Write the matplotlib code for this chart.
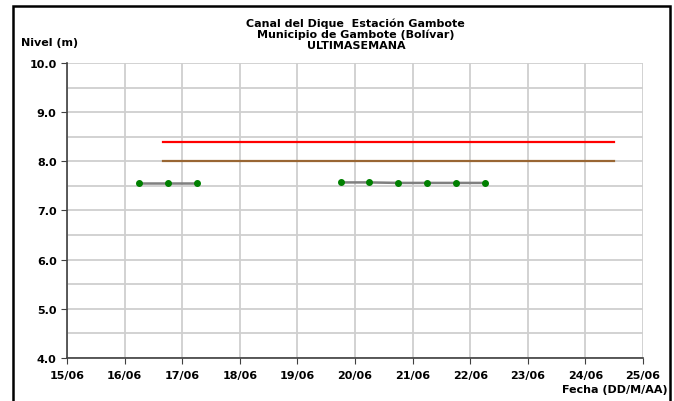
import datetime as dt
import matplotlib
matplotlib.use("Agg")
import matplotlib.pyplot as plt
import matplotlib.dates as mdates
from matplotlib.patches import Rectangle

plt.rcParams['font.family'] = ['DejaVu Sans']

# datos
fechas_nivel = [dt.datetime(2010, 6, 16, 6), dt.datetime(2010, 6, 16, 18), dt.datetime(2010, 6, 17, 6),
                dt.datetime(2010, 6, 19, 18), dt.datetime(2010, 6, 20, 6), dt.datetime(2010, 6, 20, 18),
                dt.datetime(2010, 6, 21, 6), dt.datetime(2010, 6, 21, 18), dt.datetime(2010, 6, 22, 6)]
niveles = [7.55, 7.55, 7.55, 7.57, 7.57, 7.56, 7.56, 7.56, 7.56]
grupos = [3, 6]  # puntos por tramo continuo

fechas_umbral = [dt.datetime(2010, 6, 16, 16), dt.datetime(2010, 6, 24, 12)]
alerta_roja = [8.4, 8.4]
alerta_naranja = [8.0, 8.0]

fig = plt.figure(figsize=(6.74, 4.02), dpi=100)
ax = fig.add_axes([0.0994, 0.107, 0.8546, 0.734])

ax.plot(fechas_umbral, alerta_roja, color='#ff0000', lw=1.6)
ax.plot(fechas_umbral, alerta_naranja, color='#996633', lw=1.6)

i = 0
for n in grupos:
    ax.plot(fechas_nivel[i:i + n], niveles[i:i + n], color='#808080', lw=1.8,
            marker='o', ms=4, mfc='#008000', mec='#008000')
    i += n

ax.set_xlim(dt.datetime(2010, 6, 15), dt.datetime(2010, 6, 25))
ax.set_ylim(4.0, 10.0)
ax.xaxis.set_major_locator(mdates.DayLocator())
ax.xaxis.set_major_formatter(mdates.DateFormatter('%d/%m'))
ax.set_yticks([4, 5, 6, 7, 8, 9, 10])
ax.set_yticks([4.5, 5.5, 6.5, 7.5, 8.5, 9.5], minor=True)
ax.yaxis.set_major_formatter(matplotlib.ticker.FormatStrFormatter('%.1f'))
ax.grid(True, which='both', color='#cfcfcf', lw=1.3)
ax.set_axisbelow(True)
ax.tick_params(axis='y', which='minor', length=0)
ax.tick_params(which='major', length=4, color='#404040', labelsize=8)
ax.tick_params(axis='x', pad=5)
for lab in ax.get_xticklabels() + ax.get_yticklabels():
    lab.set_fontweight('bold')
for s in ['top', 'right']:
    ax.spines[s].set_visible(False)
for s in ['left', 'bottom']:
    ax.spines[s].set_color('#404040')
    ax.spines[s].set_linewidth(1.2)

fig.text(0.528, 0.953, 'Canal del Dique  Estación Gambote\nMunicipio de Gambote (Bolívar)\nULTIMASEMANA',
         ha='center', va='top', fontsize=8, fontweight='bold', linespacing=1.05)
fig.text(0.031, 0.893, 'Nivel (m)', ha='left', va='center', fontsize=8, fontweight='bold')
fig.text(0.99, 0.03, 'Fecha (DD/M/AA)', ha='right', va='center', fontsize=8, fontweight='bold')

fig.patches.append(Rectangle((0.019, -0.01), 0.975, 0.993, transform=fig.transFigure,
                             fill=False, edgecolor='black', lw=1.8))

fig.savefig('out.png', dpi=100)
